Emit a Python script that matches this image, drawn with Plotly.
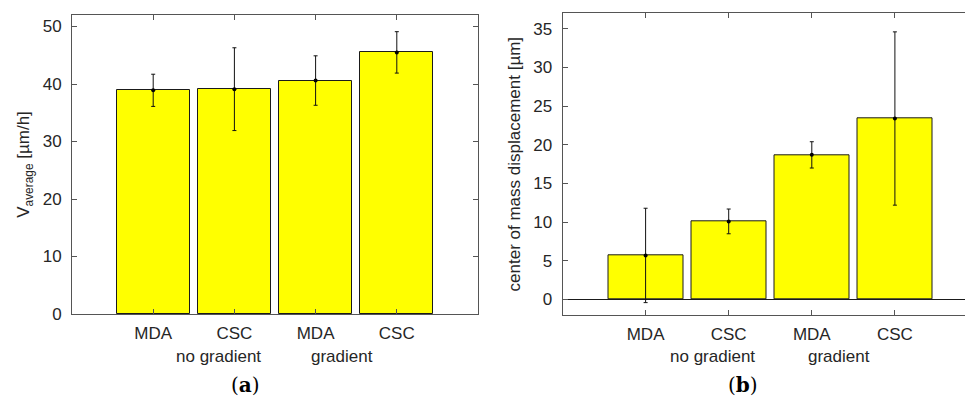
import plotly.graph_objects as go

# ---------------- data ----------------
categories = ["MDA", "CSC", "MDA", "CSC"]
group_labels = ["no gradient", "gradient"]
positions = [1, 2, 3, 4]

v_average = [38.9, 39.1, 40.6, 45.5]
v_average_err = [2.8, 7.2, 4.3, 3.6]

com_disp = [5.7, 10.1, 18.7, 23.4]
com_disp_err = [6.1, 1.6, 1.7, 11.2]

panel_labels = ["a", "b"]

# ---------------- style ----------------
W, H = 965, 398
FONT = "Liberation Sans, Arial, sans-serif"
TXT = "#262626"
FRAME = "#555555"
BAR_FILL = "#ffff00"
FS = 17

fig = go.Figure()

def add_panel(vals, errs, xa, ya):
    fig.add_trace(go.Bar(
        x=positions, y=vals, width=0.9,
        marker=dict(color=BAR_FILL, line=dict(color="#1a1a1a", width=1)),
        xaxis=xa, yaxis=ya, showlegend=False, hoverinfo="skip"))
    fig.add_trace(go.Scatter(
        x=positions, y=vals, mode="markers",
        marker=dict(color="black", size=4),
        error_y=dict(type="data", array=errs, visible=True,
                     color="#111111", thickness=1, width=2),
        xaxis=xa, yaxis=ya, showlegend=False, hoverinfo="skip"))

add_panel(v_average, v_average_err, "x", "y")
add_panel(com_disp, com_disp_err, "x2", "y2")

def px_x(p):
    return p / W

def px_y(p):
    return 1 - p / H

common_x = dict(
    tickmode="array", tickvals=positions, ticktext=categories,
    ticks="inside", ticklen=5, tickcolor=FRAME,
    showline=True, linecolor=FRAME, linewidth=1, mirror="ticks",
    showgrid=False, zeroline=False, automargin=False,
    tickfont=dict(family=FONT, size=FS, color=TXT),
    ticklabelstandoff=4,
)
common_y = dict(
    ticks="inside", ticklen=5, tickcolor=FRAME,
    showline=True, linecolor=FRAME, linewidth=1,
    showgrid=False, automargin=False,
    tickfont=dict(family=FONT, size=FS, color=TXT),
    ticklabelstandoff=6,
)

fig.update_layout(
    width=W, height=H,
    margin=dict(l=0, r=0, t=0, b=0, autoexpand=False),
    paper_bgcolor="white", plot_bgcolor="white",
    bargap=0,
    xaxis=dict(common_x, domain=[px_x(72), px_x(478)], range=[0, 5], anchor="y"),
    yaxis=dict(common_y, domain=[px_y(314), px_y(15)], range=[0, 52],
               tickvals=[0, 10, 20, 30, 40, 50], mirror="ticks", zeroline=False,
               anchor="x",
               title=dict(text="V<sub>average</sub> [µm/h]",
                          font=dict(family=FONT, size=FS, color=TXT), standoff=8)),
    xaxis2=dict(common_x, domain=[px_x(562.5), 1.0], range=[0, (W - 562.5) / 83.1],
                anchor="y2"),
    yaxis2=dict(common_y, domain=[px_y(315), px_y(13.3)], range=[-2, 37],
                tickvals=[0, 5, 10, 15, 20, 25, 30, 35], mirror=False,
                zeroline=True, zerolinecolor="#1a1a1a", zerolinewidth=1,
                anchor="x2",
                title=dict(text="center of mass displacement [µm]",
                           font=dict(family=FONT, size=FS, color=TXT), standoff=8)),
)

# second row of category labels
for xa in ("x", "x2"):
    for gx, lab in zip([1.8, 3.33], group_labels):
        fig.add_annotation(x=gx, xref=xa, y=px_y(356), yref="paper",
                           text=lab, showarrow=False,
                           font=dict(family=FONT, size=FS, color=TXT),
                           xanchor="center", yanchor="middle")

# panel labels
for cx, lab in zip([245, 743], panel_labels):
    fig.add_annotation(x=px_x(cx), xref="paper", y=px_y(385), yref="paper",
                       text="(<b>%s</b>)" % lab, showarrow=False,
                       font=dict(family="DejaVu Serif, Liberation Serif, serif",
                                 size=20, color="black"),
                       xanchor="center", yanchor="middle")

fig.write_html("out.html")
